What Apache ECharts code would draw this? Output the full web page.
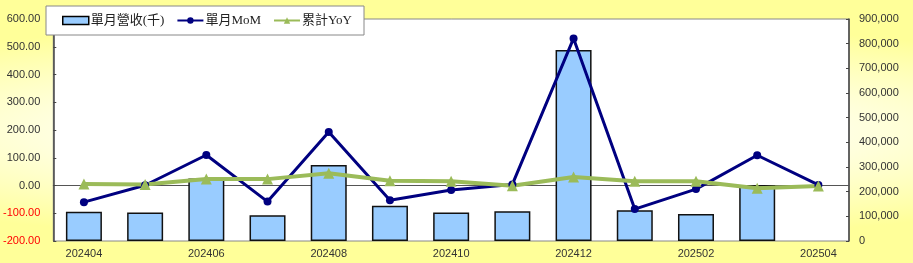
<!DOCTYPE html>
<html><head><meta charset="utf-8">
<script src="https://cdn.jsdelivr.net/npm/echarts@6/dist/echarts.min.js"></script>
<style>
html,body{margin:0;padding:0;}
body{width:913px;height:263px;background:radial-gradient(ellipse 100% 50% at 50% 50%, #ffffff 0%, #ffffe6 40%, #ffff99 85%, #ffff99 100%);}
#c{width:913px;height:263px;}
</style></head>
<body><div id="c"></div>
<script>
const categories = ['202404','202405','202406','202407','202408','202409','202410','202411','202412','202501','202502','202503','202504'];
const revenue = [119000,116000,253000,104000,308000,143000,116000,121000,774000,125000,109000,227000,null];
const mom = [-60,1,110,-58,193,-53,-16,4,530,-85,-13,109,2];
const yoy = [5,4,23,23,44,17,15,-1,31,15,15,-10,-2];
const leftTicks = {min:-200,max:600,interval:100};
const rightTicks = {min:0,max:900000,interval:100000};

const chart = echarts.init(document.getElementById('c'), null, {renderer:'canvas'});
const axisFont = {fontFamily:'Liberation Sans, Arial, sans-serif', fontSize:11, color:'#333'};
chart.setOption({
  backgroundColor:'transparent',
  animation:false,
  grid:{left:51,right:64,top:19,bottom:22,show:true,backgroundColor:'#fff',borderColor:'#888',borderWidth:1},
  legend:{
    left:46, top:6, orient:'horizontal',
    backgroundColor:'#fff', borderColor:'#888', borderWidth:1, borderRadius:0,
    padding:[8,12,8,16], itemGap:12, itemWidth:26, itemHeight:8,
    textStyle:{fontFamily:'Liberation Serif, "Noto Sans CJK TC", serif', fontSize:13, color:'#222', padding:[0,0,0,-3]},
    data:[
      {name:'單月營收(千)', icon:'rect', itemStyle:{color:'#99CCFF',borderColor:'#000',borderWidth:1.5}},
      {name:'單月MoM'},
      {name:'累計YoY'}
    ]
  },
  xAxis:{
    type:'category', data:categories, boundaryGap:true,
    axisLine:{lineStyle:{color:'#555',width:1}},
    axisTick:{inside:true,length:3,interval:0,lineStyle:{color:'#555'}},
    axisLabel:Object.assign({interval:1, margin:7}, axisFont),
    splitLine:{show:false}
  },
  yAxis:[
    {type:'value', min:leftTicks.min, max:leftTicks.max, interval:leftTicks.interval, position:'left',
     axisLine:{show:true,lineStyle:{color:'#444',width:1.5}},
     axisTick:{show:true,inside:true,length:3,lineStyle:{color:'#444'}},
     splitLine:{show:false},
     axisLabel:Object.assign({margin:13, formatter:v=>v.toFixed(2),
       color:v=>(v<0?'#FF0000':'#333')}, {fontFamily:axisFont.fontFamily,fontSize:11})
    },
    {type:'value', min:rightTicks.min, max:rightTicks.max, interval:rightTicks.interval, position:'right',
     axisLine:{show:true,lineStyle:{color:'#444',width:1.5}},
     axisTick:{show:true,inside:true,length:3,lineStyle:{color:'#444'}},
     splitLine:{show:false},
     axisLabel:Object.assign({margin:10, formatter:v=>v.toLocaleString('en-US')}, axisFont)
    }
  ],
  series:[
    {name:'單月營收(千)', type:'bar', yAxisIndex:1, data:revenue, barWidth:36,
     itemStyle:{color:'#99CCFF', borderColor:'#111', borderWidth:1.5}},
    {name:'單月MoM', type:'line', yAxisIndex:0, data:mom, symbol:'circle', symbolSize:8,
     lineStyle:{color:'#000080',width:3}, itemStyle:{color:'#000080'}},
    {name:'累計YoY', type:'line', yAxisIndex:0, data:yoy, symbol:'triangle', symbolSize:11,
     lineStyle:{color:'#9BBB59',width:4}, itemStyle:{color:'#9BBB59'}}
  ]
});
</script></body></html>
